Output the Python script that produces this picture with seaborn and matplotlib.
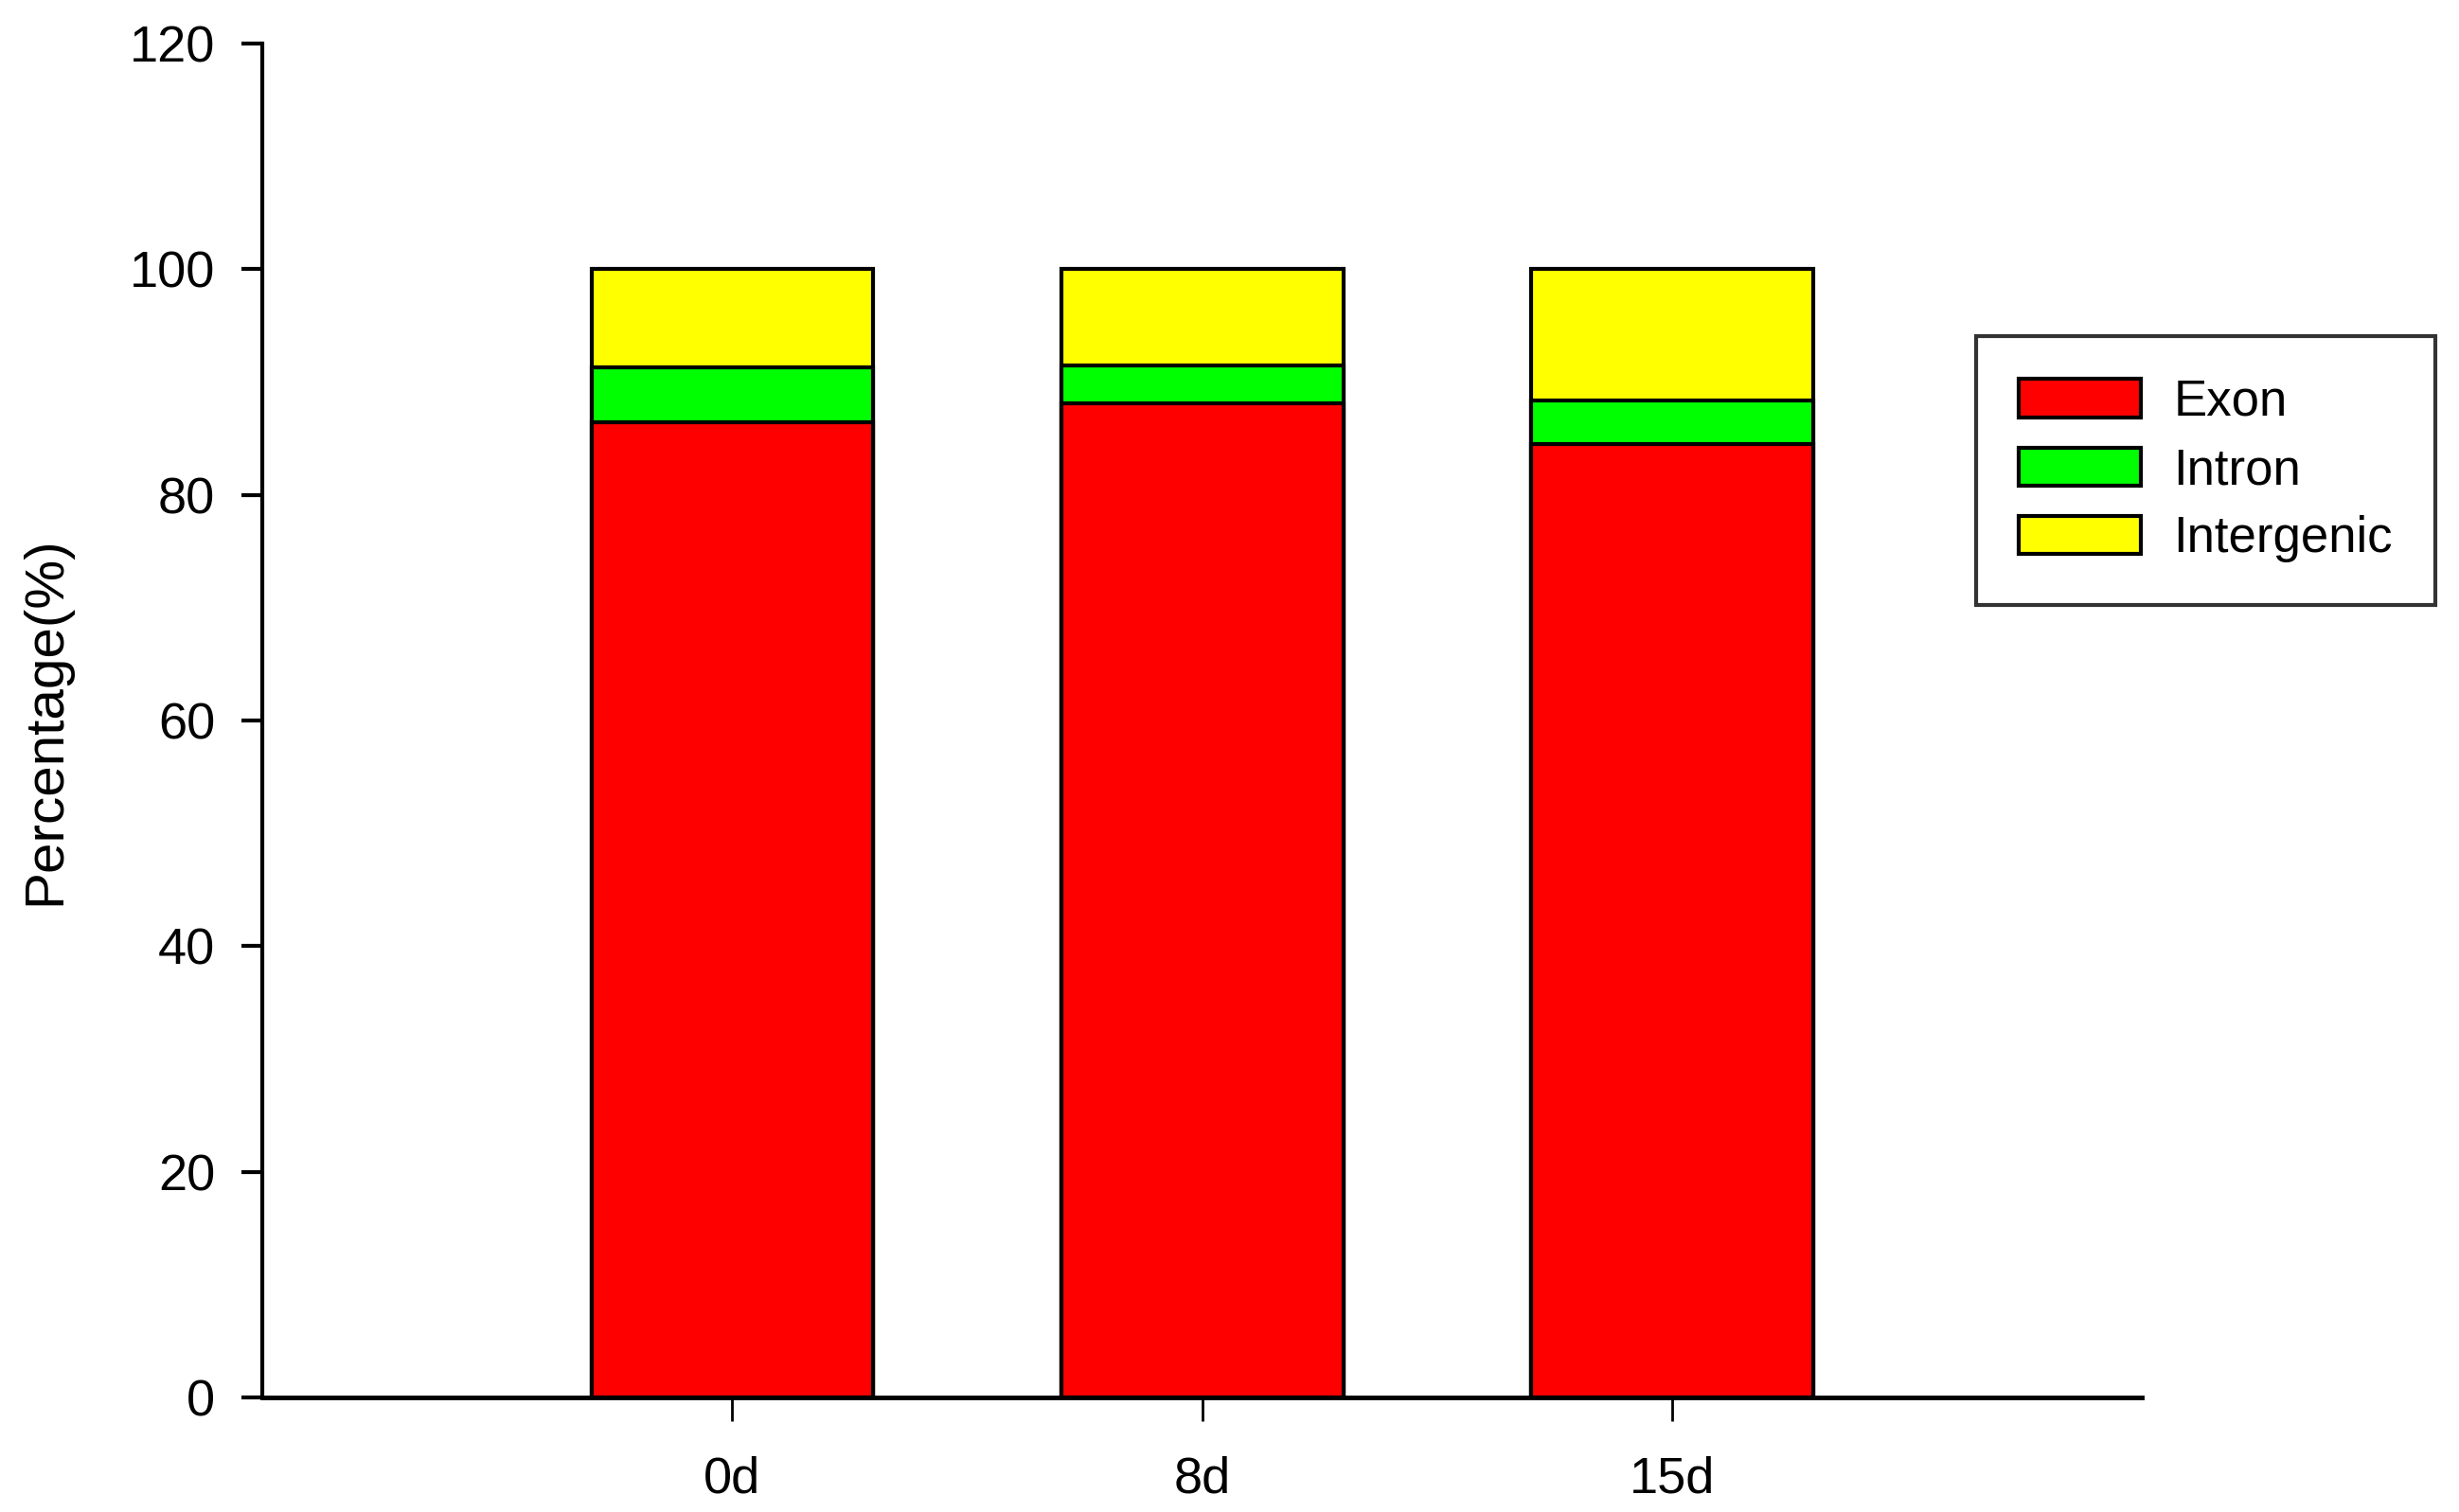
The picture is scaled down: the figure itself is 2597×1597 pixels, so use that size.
import pandas as pd
import seaborn as sns
import matplotlib.pyplot as plt
import numpy as np
from matplotlib.patches import Patch

# values
days = ["0d", "8d", "15d"]
exon = [86.4, 88.1, 84.5]
intron = [4.9, 3.4, 3.9]
intergenic = [8.7, 8.5, 11.6]
yticks = [0, 20, 40, 60, 80, 100, 120]

sns.set_style("ticks", {"axes.edgecolor": "black", "text.color": "black",
                        "xtick.color": "black", "ytick.color": "black",
                        "axes.labelcolor": "black"})
plt.rcParams["font.family"] = ["Liberation Sans", "DejaVu Sans"]

df = pd.DataFrame({"day": days, "Exon": exon, "Intron": intron, "Intergenic": intergenic})
df["ex_in"] = df["Exon"] + df["Intron"]
df["total"] = df["ex_in"] + df["Intergenic"]

fig = plt.figure(figsize=(25.97, 15.97), dpi=100)
ax = fig.add_axes([0.1067, 0.0758, 0.7644, 0.8954])

edge = dict(edgecolor="black", linewidth=3, width=0.6)
# stacked bars: draw tallest first, then cover from the bottom
sns.barplot(data=df, x="day", y="total", color="#ffff00", saturation=1, ax=ax, **edge)
sns.barplot(data=df, x="day", y="ex_in", color="#00ff00", saturation=1, ax=ax, **edge)
sns.barplot(data=df, x="day", y="Exon", color="#ff0000", saturation=1, ax=ax, **edge)

ax.set_xlim(-1, 3)
ax.set_ylim(0, 120)
ax.set_yticks(yticks)
ax.set_xlabel("")
ax.set_ylabel("Percentage(%)", fontsize=42, labelpad=44)
ax.tick_params(axis="y", labelsize=39, length=16, width=3, pad=20)
ax.tick_params(axis="x", labelsize=39, length=18, width=2, pad=26)
sns.despine(ax=ax)
ax.spines["left"].set_linewidth(3)
ax.spines["bottom"].set_linewidth(3.5)

handles = [Patch(facecolor=c, edgecolor="black", linewidth=3, label=l)
           for c, l in zip(["#ff0000", "#00ff00", "#ffff00"], ["Exon", "Intron", "Intergenic"])]
leg = fig.legend(handles=handles, loc="upper left", bbox_to_anchor=(0.8036, 0.7777),
                 fontsize=38, frameon=True, fancybox=False, borderaxespad=0,
                 handlelength=2.45, handleheight=0.8, handletextpad=0.65,
                 labelspacing=0.42, borderpad=0.85)
leg.get_frame().set_edgecolor("black")
leg.get_frame().set_linewidth(3)

fig.savefig("out.png", dpi=100)
